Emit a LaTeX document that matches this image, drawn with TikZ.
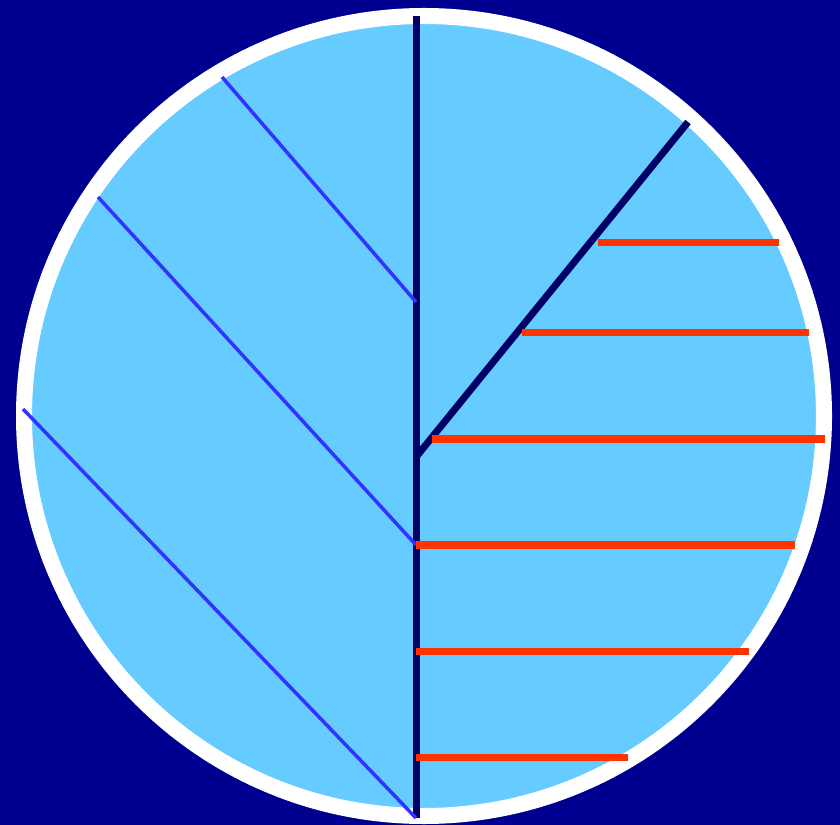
\documentclass[tikz,border=0pt]{standalone}
\usepackage{tikz}

\definecolor{bgblue}{RGB}{0,0,144}
\definecolor{skyfill}{RGB}{102,204,255}
\definecolor{trunkblue}{RGB}{0,0,102}
\definecolor{branchblue}{RGB}{51,51,255}
\definecolor{twigred}{RGB}{255,51,0}

\begin{document}
\begin{tikzpicture}[
      x=0.01cm, y=-0.01cm,
      disc/.style={draw=white, line width=0.16cm, fill=skyfill},
      trunk/.style={draw=trunkblue, line width=0.07cm},
      branch/.style={draw=branchblue, line width=0.035cm},
      twig/.style={draw=twigred, line width=0.07cm}
    ]

    % background and frame
    \fill[bgblue] (0,0) rectangle (840,825);
    \useasboundingbox (0,0) rectangle (840,825);
    \draw[disc] (424,416) circle[radius=400];

    % trunk and fork
    \coordinate (top) at (416,16);
    \coordinate (foot) at (416,818);
    \coordinate (fork) at (416,457);
    \coordinate (tip) at (688,122);
    \draw[trunk] (top) -- (foot);
    \draw[trunk] (fork) -- (tip);

    % thin branches on the left
    \draw[branch] (222,77) -- (416,302);
    \draw[branch] (98,197) -- (416,545);
    \draw[branch] (23,409) -- (416,818);

    % red bars on the right
    \draw[twig] (598,243) -- (779,243);
    \draw[twig] (522,333) -- (809,333);
    \draw[twig] (432,439) -- (825,439);
    \draw[twig] (416,545) -- (795,545);
    \draw[twig] (416,651) -- (749,651);
    \draw[twig] (416,757) -- (628,757);

\end{tikzpicture}
\end{document}
